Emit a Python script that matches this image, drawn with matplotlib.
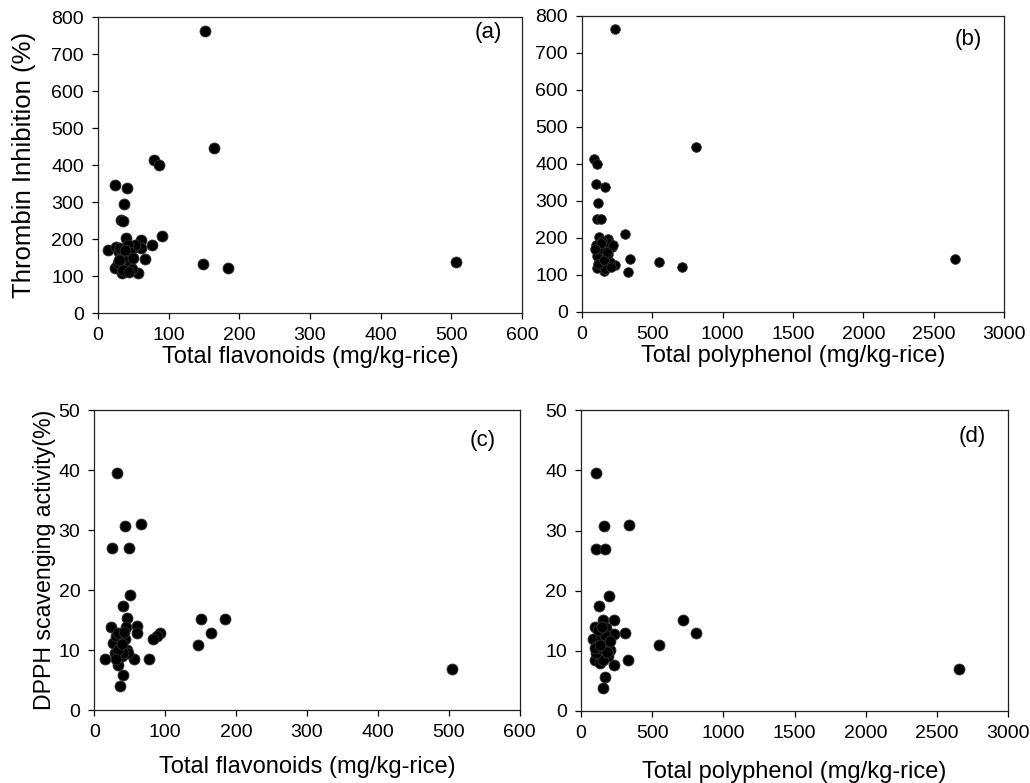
import matplotlib
matplotlib.use("Agg")
import matplotlib.pyplot as plt

plt.rcParams['font.family'] = ['Liberation Sans', 'DejaVu Sans']

# (a) total flavonoids vs thrombin inhibition
flav_a = [152, 164, 80, 87, 24, 41.5, 37, 33, 35, 91, 40, 61, 61, 77, 14, 66, 148, 184, 506, 24, 34, 57,
          26, 30, 33, 36, 38, 40, 43, 45, 48, 50, 53, 28, 32, 42, 46, 35, 50, 44, 30, 38]
thr_a = [764, 447, 415, 400, 346, 338, 295, 252, 250, 210, 202, 197, 176, 183, 170, 146, 132, 122, 139, 121, 109, 109,
         180, 165, 150, 138, 128, 160, 145, 130, 120, 175, 185, 135, 175, 185, 165, 118, 150, 112, 145, 170]

# (b) total polyphenol vs thrombin inhibition
poly_b = [235, 808, 85, 109, 97, 161, 116, 109, 137, 308, 339, 327, 545, 713, 2652, 232, 159, 107, 123, 187,
          100, 110, 120, 130, 140, 150, 160, 170, 180, 190, 200, 210, 105, 125, 145, 165, 185, 205, 115, 135,
          155, 175, 95, 220]
thr_b = [763, 445, 413, 398, 344, 337, 294, 250, 250, 209, 143, 107, 133, 121, 142, 125, 110, 119, 202, 196,
         180, 160, 140, 130, 150, 170, 125, 145, 165, 185, 135, 175, 150, 170, 190, 115, 155, 120, 130, 185,
         140, 160, 170, 180]

# (c) total flavonoids vs DPPH scavenging
flav_c = [32.4, 43, 66, 24.4, 49, 51, 41, 46.5, 44.6, 24, 61, 60.6, 92.5, 88, 83, 151, 184.5, 164, 147, 505,
          15.5, 56, 77, 40, 37, 34, 27, 31, 36, 43, 45.5, 29, 38.5, 48, 34, 41, 33, 39, 30, 42]
dpph_c = [39.6, 30.7, 31.0, 27.0, 27.0, 19.2, 17.4, 15.3, 13.9, 13.9, 14.1, 12.8, 12.9, 12.4, 11.8, 15.2, 15.2,
          12.8, 10.9, 6.8, 8.5, 8.5, 8.6, 5.8, 4.0, 7.6, 11.2, 12.3, 10.6, 11.8, 10.1, 9.5, 9.0, 9.5, 12.8, 9.5,
          10.0, 11.0, 8.5, 13.0]

# (d) total polyphenol vs DPPH scavenging
poly_d = [108, 164, 337, 103, 168, 196, 126, 154, 231, 96, 178, 229, 306, 713, 811, 545, 2656, 327, 231, 166,
          157, 84, 112, 96, 119, 143, 178, 201, 189, 131, 154, 166, 201, 108, 143, 120, 150, 180, 100, 135]
dpph_d = [39.6, 30.7, 31.0, 27.0, 26.9, 19.1, 17.5, 15.2, 15.2, 13.9, 13.8, 12.8, 12.9, 15.2, 12.9, 11.0, 7.0,
          8.5, 7.6, 5.7, 3.9, 11.9, 10.8, 8.5, 9.4, 12.4, 11.3, 10.2, 9.1, 8.0, 8.5, 12.7, 11.6, 9.7, 10.5,
          13.5, 14.0, 9.8, 10.5, 11.0]

fig = plt.figure(figsize=(10.3, 7.83), dpi=100)

panels = [
    # rect, x, y, xlim, xticks, ylim, yticks, xlabel, ylabel, tag, tag pos, marker size, label places
    ([0.095, 0.600, 0.412, 0.378], flav_a, thr_a, 600, range(0, 601, 100), 800, range(0, 801, 100),
     'Total flavonoids (mg/kg-rice)', ('Thrombin Inhibition (%)', 18.5), '(a)', (0.92, 0.95), 62,
     -0.148, -0.175),
    ([0.565, 0.602, 0.410, 0.378], poly_b, thr_b, 3000, range(0, 3001, 500), 800, range(0, 801, 100),
     'Total polyphenol (mg/kg-rice)', None, '(b)', (0.915, 0.92), 48, -0.150, None),
    ([0.0915, 0.093, 0.413, 0.383], flav_c, dpph_c, 600, range(0, 601, 100), 50, range(0, 51, 10),
     'Total flavonoids (mg/kg-rice)', ('DPPH scavenging activity(%)', 16.7), '(c)', (0.913, 0.90), 62,
     -0.190, -0.118),
    ([0.564, 0.092, 0.415, 0.384], poly_d, dpph_d, 3000, range(0, 3001, 500), 50, range(0, 51, 10),
     'Total polyphenol (mg/kg-rice)', None, '(d)', (0.915, 0.913), 62, -0.202, None),
]

for rect, xs, ys, xmax, xt, ymax, yt, xl, yl, tag, tpos, ms, xly, ylx in panels:
    ax = fig.add_axes(rect)
    ax.scatter(xs, ys, s=ms, c='black', edgecolors='#333333', linewidths=0.6, zorder=3)
    ax.set_xlim(0, xmax)
    ax.set_ylim(0, ymax)
    ax.set_xticks(list(xt))
    ax.set_yticks(list(yt))
    ax.tick_params(direction='out', length=4, width=0.9, labelsize=14, pad=6)
    for sp in ax.spines.values():
        sp.set_linewidth(0.9)
        sp.set_color('#222222')
    ax.set_xlabel(xl, fontsize=17)
    ax.xaxis.set_label_coords(0.5, xly)
    ax.xaxis.label.set_va('center')
    if yl:
        ax.set_ylabel(yl[0], fontsize=yl[1])
        ax.yaxis.set_label_coords(ylx, 0.5)
        ax.yaxis.label.set_va('center')
    ax.text(tpos[0], tpos[1], tag, transform=ax.transAxes, fontsize=16,
            ha='center', va='center')

fig.savefig('out.png', dpi=100)
